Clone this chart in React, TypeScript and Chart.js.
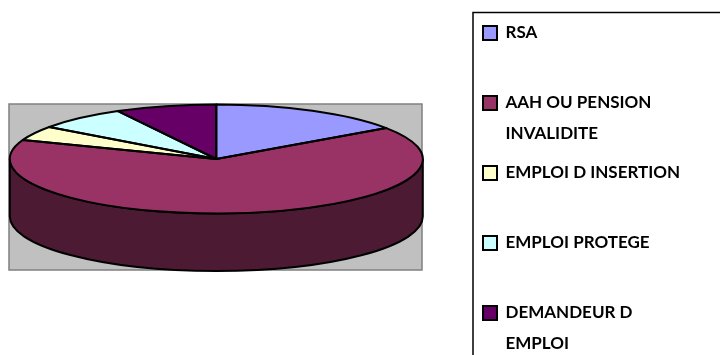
import { useEffect, useRef } from "react";
import { Chart, registerables } from "chart.js";

Chart.register(...registerables);

// Share of each situation, in percent
const categories: string[][] = [
  ["RSA", ""],
  ["AAH OU PENSION", "INVALIDITE"],
  ["EMPLOI D INSERTION", ""],
  ["EMPLOI PROTEGE", ""],
  ["DEMANDEUR D", "EMPLOI"],
];
const shares = [15.4, 65.3, 4.3, 7.1, 7.9];
const sliceColors = ["#9999FF", "#993366", "#FFFFCC", "#CCFFFF", "#660066"];

// Disc geometry: the pie is laid out as a circle and stretched sideways
const DISC_X = 216.3;
const DISC_Y = 159;
const DISC_RY = 54.5;
const DISC_RX = 206.5;
const DISC_DEPTH = 57.5;
const OUTLINE = 2;

const darken = (hex: string) => {
  const n = parseInt(hex.slice(1), 16);
  const half = (v: number) => Math.round(v / 2);
  return `rgb(${half((n >> 16) & 255)},${half((n >> 8) & 255)},${half(n & 255)})`;
};

const pie3d = {
  id: "pie3d",
  afterLayout(chart: any) {
    // Fixed boxes for the disc and the legend column
    const d = DISC_RY * 2;
    const left = DISC_X - DISC_RY;
    const top = DISC_Y - DISC_RY;
    chart.chartArea = { left, top, right: left + d, bottom: top + d, width: d, height: d };
    const lg = chart.legend;
    lg.left = 475;
    lg.top = 16.5;
    lg.right = chart.width;
    lg.bottom = chart.height;
    lg.width = lg.right - lg.left;
    lg.height = lg.bottom - lg.top;
  },
  beforeDraw(chart: any) {
    const { ctx } = chart;
    ctx.save();
    // Grey plot wall behind the disc
    ctx.fillStyle = "#C0C0C0";
    ctx.fillRect(9, 104, 413, 166);
    ctx.strokeStyle = "#808080";
    ctx.lineWidth = 1.5;
    ctx.strokeRect(9, 104, 413, 166);
    // Legend frame, running off the right and bottom edges
    ctx.strokeStyle = "#000000";
    ctx.lineWidth = 1.5;
    ctx.beginPath();
    ctx.moveTo(473, chart.height + 2);
    ctx.lineTo(473, 12.5);
    ctx.lineTo(chart.width + 2, 12.5);
    ctx.stroke();
    ctx.restore();
  },
  beforeDatasetsDraw(chart: any) {
    const { ctx } = chart;
    const arcs = chart.getDatasetMeta(0).data;
    const sx = DISC_RX / DISC_RY;
    // Rim of the disc: only the part of each slice facing the viewer
    arcs.forEach((arc: any, i: number) => {
      const a0 = Math.max(arc.startAngle, 0);
      const a1 = Math.min(arc.endAngle, Math.PI);
      if (a1 <= a0) return;
      const r = arc.outerRadius;
      ctx.save();
      ctx.beginPath();
      ctx.save();
      ctx.translate(arc.x, arc.y);
      ctx.scale(sx, 1);
      ctx.arc(0, 0, r, a0, a1);
      ctx.restore();
      ctx.save();
      ctx.translate(arc.x, arc.y + DISC_DEPTH);
      ctx.scale(sx, 1);
      ctx.arc(0, 0, r, a1, a0, true);
      ctx.restore();
      ctx.closePath();
      ctx.fillStyle = darken(sliceColors[i]);
      ctx.fill();
      ctx.lineWidth = OUTLINE;
      ctx.strokeStyle = "#000000";
      ctx.stroke();
      ctx.restore();
    });
    // Top face is drawn stretched; the matching restore is in afterDatasetsDraw
    const first = arcs[0];
    ctx.save();
    ctx.translate(first.x, first.y);
    ctx.scale(sx, 1);
    ctx.translate(-first.x, -first.y);
  },
  afterDatasetsDraw(chart: any) {
    const { ctx } = chart;
    ctx.restore();
    const sx = DISC_RX / DISC_RY;
    // Slice outlines keep an even pen width despite the stretch
    chart.getDatasetMeta(0).data.forEach((arc: any) => {
      ctx.save();
      ctx.beginPath();
      ctx.save();
      ctx.translate(arc.x, arc.y);
      ctx.scale(sx, 1);
      ctx.moveTo(0, 0);
      ctx.arc(0, 0, arc.outerRadius, arc.startAngle, arc.endAngle);
      ctx.closePath();
      ctx.restore();
      ctx.lineWidth = OUTLINE;
      ctx.lineJoin = "round";
      ctx.strokeStyle = "#000000";
      ctx.stroke();
      ctx.restore();
    });
  },
};

export default function App() {
  const canvasRef = useRef<HTMLCanvasElement>(null);

  useEffect(() => {
    const chart = new Chart(canvasRef.current!, {
      type: "pie",
      data: {
        labels: categories as any,
        datasets: [
          {
            data: shares,
            backgroundColor: sliceColors,
            borderWidth: 0,
            clip: false,
          } as any,
        ],
      },
      options: {
        responsive: false,
        animation: false,
        events: [],
        plugins: {
          tooltip: { enabled: false },
          legend: {
            position: "right",
            align: "start",
            labels: {
              boxWidth: 14,
              boxHeight: 14,
              padding: 8,
              color: "#000000",
              font: { family: "Lato", weight: "bold", size: 17, lineHeight: "31px" },
              generateLabels(c: any) {
                const base = (Chart as any).overrides.pie.plugins.legend.labels.generateLabels(c);
                return base.map((item: any) => ({
                  ...item,
                  strokeStyle: "#000000",
                  lineWidth: 2,
                }));
              },
            },
          },
        },
      } as any,
      plugins: [pie3d],
    });
    return () => chart.destroy();
  }, []);

  return (
    <div style={{ position: "fixed", left: 0, top: 0, width: 720, height: 355, background: "#FFFFFF" }}>
      <canvas ref={canvasRef} width={720} height={355} style={{ display: "block" }} />
    </div>
  );
}
